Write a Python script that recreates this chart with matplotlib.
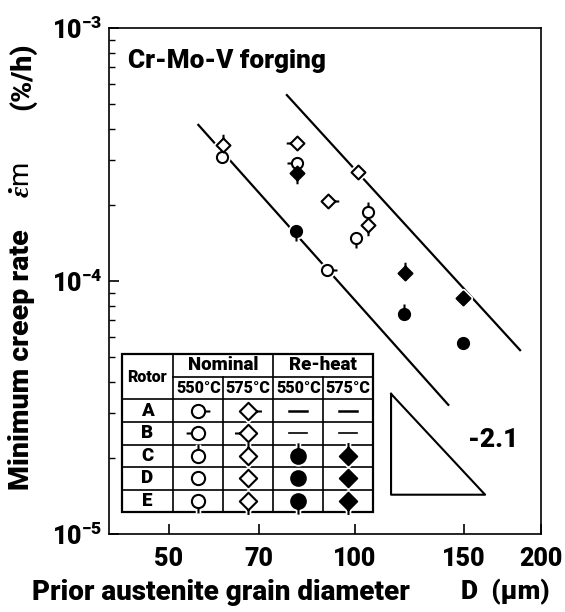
import matplotlib.pyplot as plt
from matplotlib.path import Path

plt.rcParams['font.family'] = ['Roboto', 'Liberation Sans', 'DejaVu Sans']
plt.rcParams['font.weight'] = 'black'
plt.rcParams['mathtext.fontset'] = 'custom'
plt.rcParams['mathtext.rm'] = 'Roboto:black'
plt.rcParams['mathtext.bf'] = 'Roboto:black'
plt.rcParams['mathtext.it'] = 'Liberation Serif:italic'

# ---- data ----
nom550_d = [61.0, 80.5, 90.0, 100.3, 104.8]
nom550_rate = [3.08e-4, 2.92e-4, 1.105e-4, 1.48e-4, 1.88e-4]
nom550_rotor = ['D', 'B', 'A', 'E', 'C']

nom575_d = [61.2, 80.5, 90.6, 101.3, 104.8]
nom575_rate = [3.45e-4, 3.50e-4, 2.07e-4, 2.70e-4, 1.66e-4]
nom575_rotor = ['C', 'B', 'A', 'D', 'E']

reh550_d = [80.2, 120.2, 149.4]
reh550_rate = [1.58e-4, 7.41e-5, 5.68e-5]
reh550_rotor = ['E', 'C', 'D']

reh575_d = [80.5, 120.5, 149.6]
reh575_rate = [2.67e-4, 1.08e-4, 8.57e-5]
reh575_rotor = ['E', 'C', 'D']

lower_d = [55.8, 141.6]
lower_rate = [4.14e-4, 3.24e-5]
upper_d = [77.6, 185.0]
upper_rate = [5.43e-4, 5.33e-5]

tri_d = [114.4, 114.4, 162.4, 114.4]
tri_rate = [3.58e-5, 1.43e-5, 1.43e-5, 3.58e-5]

rotors = ['A', 'B', 'C', 'D', 'E']
reheat_rotors = ['C', 'D', 'E']
x_ticks = [50, 70, 100, 150, 200]
y_ticks = [1e-5, 1e-4, 1e-3]
y_ticklabels = [r'$\mathbf{10^{-5}}$', r'$\mathbf{10^{-4}}$', r'$\mathbf{10^{-3}}$']

# pip direction on each marker identifies the rotor
PIP = {'A': (1, 0), 'B': (-1, 0), 'C': (0, 1), 'D': None, 'E': (0, -1)}


def make_marker(shape, rotor):
    if shape == 'o':
        base = Path.unit_circle()
        reach = 1.8
    else:
        base = Path([(0, 1), (1, 0), (0, -1), (-1, 0), (0, 1)],
                    [Path.MOVETO, Path.LINETO, Path.LINETO, Path.LINETO, Path.CLOSEPOLY])
        reach = 1.55
    d = PIP[rotor]
    if d is None:
        return base, 1.0
    pip = Path([d, (d[0] * reach, d[1] * reach)], [Path.MOVETO, Path.LINETO])
    return Path.make_compound_path(base, pip), reach


def draw(ax, x, y, shape, filled, rotor, ms, trans=None, z=4):
    path, reach = make_marker(shape, rotor)
    kw = {'transform': trans} if trans is not None else {}
    ax.plot([x], [y], ls='none', marker=path, ms=ms * reach, mfc='white',
            mec='white', mew=4, zorder=z, **kw)
    ax.plot([x], [y], ls='none', marker=path, ms=ms * reach,
            mfc='black' if filled else 'white', mec='black', mew=1.5,
            zorder=z + 1, **kw)


fig = plt.figure(figsize=(5.65, 6.12), dpi=100)
ax = fig.add_axes([109 / 565, 1 - 534 / 612, 432 / 565, 506 / 612])
ax.set_xscale('log')
ax.set_yscale('log')
ax.set_xlim(40, 200)
ax.set_ylim(1e-5, 1e-3)

ax.plot(lower_d, lower_rate, color='black', lw=1.6, zorder=2)
ax.plot(upper_d, upper_rate, color='black', lw=1.6, zorder=2)
ax.plot(tri_d, tri_rate, color='black', lw=1.5, zorder=2)

CIRC, DIAM = 8.0, 10.0
for x, y, r in zip(nom550_d, nom550_rate, nom550_rotor):
    draw(ax, x, y, 'o', False, r, CIRC)
for x, y, r in zip(nom575_d, nom575_rate, nom575_rotor):
    draw(ax, x, y, 'D', False, r, DIAM)
for x, y, r in zip(reh550_d, reh550_rate, reh550_rotor):
    draw(ax, x, y, 'o', True, r, CIRC)
for x, y, r in zip(reh575_d, reh575_rate, reh575_rotor):
    draw(ax, x, y, 'D', True, r, DIAM)

ax.text(167.6, 2.35e-5, '-2.1', fontsize=19, ha='center', va='center')
ax.text(0.045, 0.935, 'Cr-Mo-V forging', transform=ax.transAxes, fontsize=18.8,
        ha='left', va='center')

# axes styling
for s in ax.spines.values():
    s.set_linewidth(1.2)
ax.set_xticks(x_ticks)
ax.set_xticklabels([str(v) for v in x_ticks])
ax.xaxis.set_minor_locator(plt.NullLocator())
ax.set_yticks(y_ticks)
ax.set_yticklabels(y_ticklabels)
ax.yaxis.set_minor_formatter(plt.NullFormatter())
ax.tick_params(axis='x', which='major', direction='in', length=7, width=1.2,
               labelsize=18, pad=9)
ax.tick_params(axis='y', which='major', direction='in', length=7, width=1.2,
               labelsize=18, pad=5)
ax.tick_params(axis='y', which='minor', direction='in', length=4, width=1.0)

# ---- legend table (pixel layout of the original) ----
def fx(px):
    return (px - 109) / 432


def fy(py):
    return (534 - py) / 506


cols = [121.7, 173.3, 223.3, 273.3, 323.3, 373.3]
rows = [354, 376.5, 399.3, 421.7, 444.5, 467, 489.5, 511.7]
T = ax.transAxes
ax.add_patch(plt.Rectangle((fx(cols[0]), fy(rows[-1])), fx(cols[-1]) - fx(cols[0]),
                           fy(rows[0]) - fy(rows[-1]), transform=T, facecolor='white',
                           edgecolor='black', lw=1.6, zorder=10))
lk = dict(transform=T, color='black', lw=1.2, zorder=11)
ax.plot([fx(cols[1]), fx(cols[-1])], [fy(rows[1])] * 2, **lk)
for r in rows[2:-1]:
    ax.plot([fx(cols[0]), fx(cols[-1])], [fy(r)] * 2, **lk)
for c in (cols[1], cols[3]):
    ax.plot([fx(c)] * 2, [fy(rows[0]), fy(rows[-1])], **lk)
for c in (cols[2], cols[4]):
    ax.plot([fx(c)] * 2, [fy(rows[1]), fy(rows[-1])], **lk)

tk = dict(transform=T, ha='center', va='center', zorder=12)
ax.text(fx((cols[0] + cols[1]) / 2), fy((rows[0] + rows[2]) / 2), 'Rotor', fontsize=11.5, **tk)
ax.text(fx((cols[1] + cols[3]) / 2), fy((rows[0] + rows[1]) / 2), 'Nominal', fontsize=13.5, **tk)
ax.text(fx((cols[3] + cols[5]) / 2), fy((rows[0] + rows[1]) / 2), 'Re-heat', fontsize=13.5, **tk)
for i, t in enumerate(['550°C', '575°C', '550°C', '575°C']):
    ax.text(fx((cols[i + 1] + cols[i + 2]) / 2), fy((rows[1] + rows[2]) / 2), t,
            fontsize=11.5, **tk)

for i, rot in enumerate(rotors):
    yc = fy((rows[i + 2] + rows[i + 3]) / 2)
    ax.text(fx((cols[0] + cols[1]) / 2), yc, rot, fontsize=13.5, **tk)
    draw(ax, fx((cols[1] + cols[2]) / 2), yc, 'o', False, rot, 9.5, trans=T, z=13)
    draw(ax, fx((cols[2] + cols[3]) / 2), yc, 'D', False, rot, 12.5, trans=T, z=13)
    if rot in reheat_rotors:
        draw(ax, fx((cols[3] + cols[4]) / 2), yc, 'o', True, rot, 10.5, trans=T, z=13)
        draw(ax, fx((cols[4] + cols[5]) / 2), yc, 'D', True, rot, 12.5, trans=T, z=13)
    else:
        for c0, c1 in ((cols[3], cols[4]), (cols[4], cols[5])):
            xm = (c0 + c1) / 2
            ax.plot([fx(xm - 9), fx(xm + 9)], [yc, yc], transform=T, color='black',
                    lw=1.8 if rot == 'A' else 1.2, zorder=13)

# axis titles
fig.text(32 / 565, 1 - 592 / 612, 'Prior austenite grain diameter', fontsize=20,
         ha='left', va='center')
fig.text(461 / 565, 1 - 592 / 612, 'D  (μm)', fontsize=19, ha='left', va='center')
fig.text(22 / 565, 1 - 360 / 612, 'Minimum creep rate', fontsize=20.5,
         rotation=90, ha='center', va='center')
fig.text(22 / 565, 1 - 180 / 612, r'$\dot{\varepsilon}$m', fontsize=20,
         fontweight='normal', rotation=90, ha='center', va='center')
fig.text(22 / 565, 1 - 76 / 612, '(%/h)', fontsize=20.5,
         rotation=90, ha='center', va='center')

fig.savefig('out.png', dpi=100)
